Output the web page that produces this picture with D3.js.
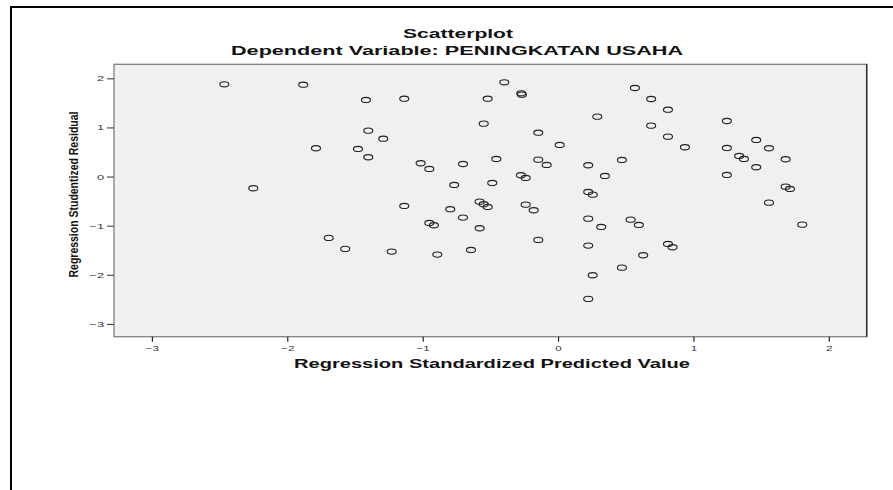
<!DOCTYPE html>
<html>
<head>
<meta charset="utf-8">
<script src="https://cdn.jsdelivr.net/npm/d3@7"></script>
<style>
  html, body { margin: 0; padding: 0; background: #fff; }
  svg { display: block; font-family: "Liberation Sans", Arial, sans-serif; }
</style>
</head>
<body>
<svg id="chart" width="893" height="490"></svg>
<script>
// ---- data ----
const titleMain = "Scatterplot";
const titleSub = "Dependent Variable: PENINGKATAN USAHA";
const xLabel = "Regression Standardized Predicted Value";
const yLabel = "Regression Studentized Residual";
const xTicks = [-3, -2, -1, 0, 1, 2];
const yTicks = [2, 1, 0, -1, -2, -3];
const predicted = [
  -2.465, -1.882, -1.419, -1.402, -1.788, -1.478, -1.402, -2.251, -1.694, -1.572,
  -1.136, -0.397, -0.272, -0.267, -0.520, 0.290, -1.291, -0.549, -0.146, 0.012,
  -1.015, -0.951, -0.702, -0.456, -0.146, -0.084, 0.223, 0.346, -0.274, -0.239,
  -0.767, -0.486, 0.223, 0.256, -1.136, -0.796, -0.579, -0.549, -0.520, -0.239,
  -0.180, -0.702, -0.951, -0.917, -0.579, 0.223, 0.319, -0.146, 0.223, -1.229,
  -0.892, -0.643, 0.256, 0.223,
  0.568, 0.688, 0.812, 0.688, 0.812, 0.937, 0.472, 1.247, 1.464, 1.558,
  1.247, 1.338, 1.373, 1.464, 1.681, 1.247, 1.681, 1.713, 1.558, 1.804,
  0.536, 0.597, 0.812, 0.846, 0.629, 0.472
];
const residual = [
  1.878, 1.870, 1.559, 0.934, 0.576, 0.562, 0.393, -0.238, -1.249, -1.473,
  1.585, 1.919, 1.695, 1.667, 1.585, 1.219, 0.771, 1.077, 0.893, 0.643,
  0.271, 0.155, 0.256, 0.358, 0.344, 0.236, 0.230, 0.012, 0.026, -0.028,
  -0.171, -0.130, -0.313, -0.368, -0.598, -0.665, -0.511, -0.564, -0.619, -0.572,
  -0.686, -0.836, -0.944, -0.991, -1.052, -0.857, -1.026, -1.290, -1.406, -1.528,
  -1.589, -1.494, -2.009, -2.491,
  1.803, 1.579, 1.361, 1.036, 0.812, 0.596, 0.338, 1.131, 0.745, 0.576,
  0.582, 0.419, 0.358, 0.189, 0.352, 0.033, -0.206, -0.252, -0.531, -0.979,
  -0.877, -0.985, -1.372, -1.439, -1.602, -1.854
];
const points = predicted.map((v, i) => ({ x: v, y: residual[i] }));

// ---- layout ----
const svg = d3.select("#chart");
const plot = { left: 114, right: 866.7, top: 64.3, bottom: 336.7 };
const x = d3.scaleLinear().domain([-3.28, 2.28]).range([plot.left, plot.right]);
const y = d3.scaleLinear().domain([-3.26, 2.285]).range([plot.bottom, plot.top]);

// outer chart frame (top & left edges visible)
svg.append("line").attr("x1", 10).attr("x2", 893).attr("y1", 7).attr("y2", 7)
  .attr("stroke", "#000").attr("stroke-width", 2);
svg.append("line").attr("x1", 11).attr("x2", 11).attr("y1", 6).attr("y2", 490)
  .attr("stroke", "#000").attr("stroke-width", 2);

// plot background
svg.append("rect")
  .attr("x", plot.left).attr("y", plot.top)
  .attr("width", plot.right - plot.left).attr("height", plot.bottom - plot.top)
  .attr("fill", "#f0f0f0").attr("stroke", "#808080").attr("stroke-width", 1.3);
svg.append("line").attr("x1", plot.right).attr("x2", plot.right)
  .attr("y1", plot.top).attr("y2", plot.bottom)
  .attr("stroke", "#333").attr("stroke-width", 1.5);

// axes
const sx = 1.45;
const xAxis = d3.axisBottom(x).tickValues(xTicks).tickSize(5).tickPadding(4)
  .tickFormat(d3.format("d"));
const gx = svg.append("g").attr("transform", `translate(0,${plot.bottom})`).call(xAxis);
gx.select(".domain").remove();
gx.selectAll(".tick line").attr("stroke", "#222").attr("stroke-width", 1.2);
gx.selectAll(".tick text")
  .attr("font-size", 8).attr("fill", "#333")
  .attr("font-family", "Liberation Sans, Arial, sans-serif")
  .attr("transform", `scale(${sx},1)`);

const yAxis = d3.axisLeft(y).tickValues(yTicks).tickSize(7).tickPadding(3)
  .tickFormat(d3.format("d"));
const gy = svg.append("g").attr("transform", `translate(${plot.left},0)`).call(yAxis);
gy.select(".domain").remove();
gy.selectAll(".tick line").attr("stroke", "#444").attr("stroke-width", 1.1);
gy.selectAll(".tick text")
  .attr("font-size", 8).attr("fill", "#333")
  .attr("font-family", "Liberation Sans, Arial, sans-serif")
  .attr("x", -10 / 1.6)
  .attr("transform", "scale(1.6,1)");

// points
svg.append("g").selectAll("ellipse").data(points).join("ellipse")
  .attr("cx", d => x(d.x)).attr("cy", d => y(d.y))
  .attr("rx", 4.5).attr("ry", 2.6)
  .attr("fill", "none").attr("stroke", "#222").attr("stroke-width", 1.1);

// titles
svg.append("text").text(titleMain)
  .attr("x", 403).attr("y", 38.3)
  .attr("font-size", 12).attr("font-weight", "bold").attr("fill", "#111")
  .attr("textLength", 110).attr("lengthAdjust", "spacingAndGlyphs");
svg.append("text").text(titleSub)
  .attr("x", 231).attr("y", 54.5)
  .attr("font-size", 12).attr("font-weight", "bold").attr("fill", "#111")
  .attr("textLength", 452).attr("lengthAdjust", "spacingAndGlyphs");
svg.append("text").text(xLabel)
  .attr("x", 294).attr("y", 367.7)
  .attr("font-size", 12).attr("font-weight", "bold").attr("fill", "#111")
  .attr("textLength", 396).attr("lengthAdjust", "spacingAndGlyphs");
svg.append("text").text(yLabel)
  .attr("transform", "translate(78,194.5) rotate(-90)")
  .attr("text-anchor", "middle")
  .attr("font-size", 12).attr("font-weight", "bold").attr("fill", "#111")
  .attr("textLength", 166).attr("lengthAdjust", "spacingAndGlyphs");
</script>
</body>
</html>
